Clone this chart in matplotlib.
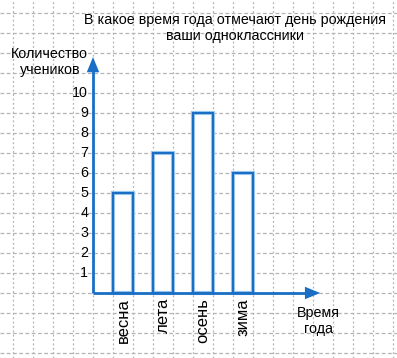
import numpy as np
import matplotlib
matplotlib.use("Agg")
import matplotlib.pyplot as plt

seasons = ["весна", "лета", "осень", "зима"]
counts = [5, 7, 9, 6]
yticks = list(range(1, 11))
title = "В какое время года отмечают день рождения\nваши одноклассники"
ylabel = "Количество\nучеников"
xlabel = "Время\nгода"

blue = "#1a6fc4"
light = "#9cc8ee"
grid_c = "#b4b4b4"

fig = plt.figure(figsize=(3.97, 3.58), dpi=100)
ax = fig.add_axes([0, 0, 1, 1])
# 1 x-unit = 40px, 1 y-unit = 20px, origin at (93, 293) px
ax.set_xlim(-93 / 40, (397 - 93) / 40)
ax.set_ylim(-65 / 20, 293 / 20)
ax.axis("off")

# squared paper
for gx in np.arange(-2, 7.6, 0.5):
    ax.axvline(gx, color=grid_c, lw=0.9, ls=(0, (1.5, 2)), zorder=0)
for gy in range(-3, 15):
    ax.axhline(gy, color=grid_c, lw=0.9, ls=(0, (3, 2)), zorder=0)

# bars
pos = np.arange(len(seasons)) + 0.75
ax.bar(pos, counts, width=0.5, facecolor="white", edgecolor=light, lw=3.0, zorder=2)
ax.bar(pos, counts, width=0.5, facecolor="none", edgecolor=blue, lw=1.5, zorder=3)

# axes with arrows
ax.plot([0, 5.3], [0, 0], color=blue, lw=2, zorder=4, solid_capstyle="butt")
ax.plot([0, 0], [0, 11.2], color=blue, lw=2, zorder=4, solid_capstyle="butt")
ax.annotate("", xy=(5.68, 0), xytext=(5.2, 0),
            arrowprops=dict(arrowstyle="-|>,head_length=1.1,head_width=0.45",
                            color=blue, lw=0, shrinkA=0, shrinkB=0), zorder=5)
ax.annotate("", xy=(0, 11.8), xytext=(0, 11.0),
            arrowprops=dict(arrowstyle="-|>,head_length=1.1,head_width=0.45",
                            color=blue, lw=0, shrinkA=0, shrinkB=0), zorder=5)

fs = 10.3
for v in yticks:
    ax.text(-0.12, v, str(v), ha="right", va="center", fontsize=fs,
            family="Liberation Sans", zorder=6)
for p, s in zip(pos, seasons):
    ax.text(p, -0.25, s, ha="center", va="top", rotation=90, fontsize=12,
            family="Liberation Sans", zorder=6)

ax.text(3.55, 13.25, title, ha="center", va="center", fontsize=fs,
        family="Liberation Sans", linespacing=1.15, zorder=6)
ax.text(-1.08, 11.55, ylabel, ha="center", va="center", fontsize=fs,
        family="Liberation Sans", linespacing=1.2, zorder=6)
ax.text(5.63, -1.4, xlabel, ha="center", va="center", fontsize=fs,
        family="Liberation Sans", linespacing=1.2, zorder=6)

fig.savefig("out.png", dpi=100)
